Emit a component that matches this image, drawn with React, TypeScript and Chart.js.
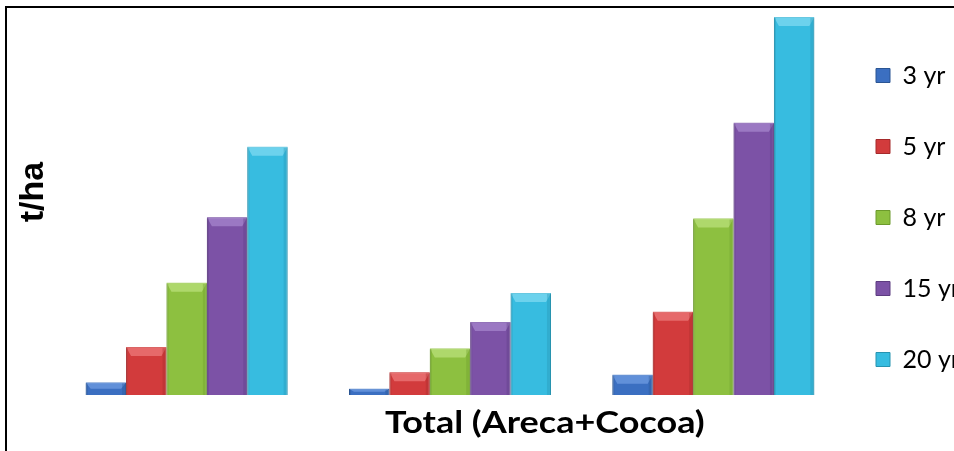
import React, { useEffect, useRef } from "react";
import { Chart, registerables } from "chart.js";

Chart.register(...registerables);

// ---- data ----
const categories = ["Group 1", "Group 2", "Group 3"];
const seriesLabels = ["3 yr", "5 yr", "8 yr", "15 yr", "20 yr"];
const yr3 = [1.0, 0.5, 1.6];
const yr5 = [3.8, 1.8, 6.6];
const yr8 = [8.9, 3.7, 14.0];
const yr15 = [14.1, 5.8, 21.6];
const yr20 = [19.7, 8.1, 30.0];
const yTitle = "t/ha";
const xTitle = "Total (Areca+Cocoa)";

const fills = ["#3b6fc1", "#d23b3c", "#8dc040", "#7c52a6", "#37bce0"];
const edges = ["#2b5593", "#a52a2b", "#6c9a2c", "#5d3c80", "#2793b0"];
const caps = ["#6f9be0", "#ec7a7a", "#b9e07a", "#a585cc", "#7fdaf2"];

const seriesValues = [yr3, yr5, yr8, yr15, yr20];

const bevelPlugin = {
  id: "bevelPlugin",
  afterDatasetsDraw(chart: any) {
    const { ctx } = chart;
    ctx.save();
    chart.data.datasets.forEach((ds: any, di: number) => {
      const meta = chart.getDatasetMeta(di);
      meta.data.forEach((bar: any) => {
        const { x, y, base, width } = bar.getProps(["x", "y", "base", "width"], true);
        const l = x - width / 2;
        const r = x + width / 2;
        const h = base - y;
        const cap = Math.min(9, h / 2);
        // lighter top cap (trapezoid)
        ctx.fillStyle = caps[di];
        ctx.globalAlpha = 0.75;
        ctx.beginPath();
        ctx.moveTo(l, y);
        ctx.lineTo(r, y);
        ctx.lineTo(r - 5, y + cap);
        ctx.lineTo(l + 5, y + cap);
        ctx.closePath();
        ctx.fill();
        // darker right edge
        ctx.globalAlpha = 0.35;
        ctx.fillStyle = edges[di];
        ctx.fillRect(r - 4, y + 1, 4, h - 1);
        ctx.fillRect(l, y + 1, 2, h - 1);
        ctx.globalAlpha = 1;
      });
    });
    ctx.restore();
  },
};

const axisTitlePlugin = {
  id: "axisTitlePlugin",
  afterLayout(chart: any) {
    const lg = chart.legend;
    if (lg) {
      const target = chart.chartArea.right + 31 - lg.options.labels.padding;
      const dx = target - lg.left;
      lg.left += dx;
      lg.right += dx;
    }
  },
  afterDraw(chart: any) {
    const { ctx, chartArea } = chart;
    ctx.save();
    ctx.fillStyle = "#000";
    // x title
    ctx.font = "bold 30px Lato";
    ctx.textAlign = "center";
    ctx.textBaseline = "alphabetic";
    const cx = chartArea.left + (chartArea.right - chartArea.left) * 0.62;
    ctx.save();
    ctx.translate(cx, chartArea.bottom + 38);
    ctx.scale(1.2, 1);
    ctx.fillText(xTitle, 0, 0);
    ctx.restore();
    // y title
    ctx.font = "bold 34px 'Liberation Sans', Arial, sans-serif";
    ctx.translate(36, (chartArea.top + chartArea.bottom) / 2 - 14);
    ctx.rotate(-Math.PI / 2);
    ctx.fillText(yTitle, 0, 0);
    ctx.restore();
  },
};

export default function App() {
  const ref = useRef<HTMLCanvasElement | null>(null);

  useEffect(() => {
    if (!ref.current) return;
    const chart = new Chart(ref.current, {
      type: "bar",
      data: {
        labels: categories,
        datasets: seriesLabels.map((label, i) => ({
          label,
          data: seriesValues[i],
          backgroundColor: fills[i],
          borderColor: edges[i],
          borderWidth: 1,
          barPercentage: 1,
          categoryPercentage: 0.767,
        })),
      },
      options: {
        animation: false,
        responsive: false,
        devicePixelRatio: 1,
        layout: { padding: { left: 48, top: 9, right: 0, bottom: 0 } },
        scales: {
          x: {
            display: true,
            grid: { display: false },
            border: { display: false },
            ticks: { display: false },
            afterFit: (scale: any) => {
              scale.height = 56;
            },
          },
          y: {
            display: false,
            min: 0,
            max: 30,
          },
        },
        plugins: {
          legend: {
            position: "right",
            align: "start",
            maxWidth: 128,
            labels: {
              boxWidth: 14,
              boxHeight: 14,
              padding: 46,
              color: "#000",
              font: { family: "Lato", size: 25 },
            },
          },
          tooltip: { enabled: false },
          title: { display: false },
        },
      },
      plugins: [bevelPlugin, axisTitlePlugin],
    });
    return () => chart.destroy();
  }, []);

  return (
    <div
      style={{
        position: "fixed",
        left: 5,
        top: 6,
        right: 0,
        bottom: 0,
        overflow: "hidden",
        background: "#fff",
        borderTop: "2px solid #000",
        borderLeft: "2px solid #000",
      }}
    >
      <canvas ref={ref} width={966} height={443} style={{ display: "block" }} />
    </div>
  );
}
